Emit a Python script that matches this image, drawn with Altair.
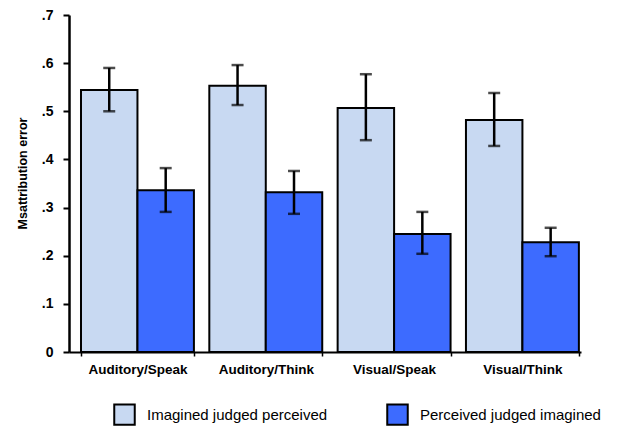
import altair as alt
import pandas as pd

categories = ["Auditory/Speak", "Auditory/Think", "Visual/Speak", "Visual/Think"]
series = ["Imagined judged perceived", "Perceived judged imagined"]
means_imagined = [0.544, 0.553, 0.507, 0.482]
low_imagined = [0.500, 0.513, 0.440, 0.428]
high_imagined = [0.590, 0.596, 0.577, 0.538]
means_perceived = [0.336, 0.332, 0.245, 0.228]
low_perceived = [0.291, 0.287, 0.204, 0.199]
high_perceived = [0.382, 0.376, 0.291, 0.258]
colors = ["#c8d9f2", "#3d6bff"]

rows = []
for i, c in enumerate(categories):
    rows.append(dict(cat=c, s=series[0], m=means_imagined[i], lo=low_imagined[i], hi=high_imagined[i]))
    rows.append(dict(cat=c, s=series[1], m=means_perceived[i], lo=low_perceived[i], hi=high_perceived[i]))
df = pd.DataFrame(rows)

font = "Liberation Sans"

xenc = alt.X("cat:N", sort=categories, title=None,
             scale=alt.Scale(paddingInner=0.12, paddingOuter=0.055, align=0.85),
             axis=alt.Axis(labelAngle=0, labelFont=font, labelFontSize=13.5, labelFontWeight="bold",
                           labelColor="black", domainColor="black", domainWidth=2,
                           tickColor="black", tickWidth=1.5, tickSize=4, tickBand="extent",
                           labelPadding=6))
xoff = alt.XOffset("s:N", sort=series, scale=alt.Scale(paddingInner=0, paddingOuter=0))

base = alt.Chart(df)

bars = base.mark_bar(stroke="black", strokeWidth=2).encode(
    x=xenc,
    xOffset=xoff,
    y=alt.Y("m:Q", title="Msattribution error",
            scale=alt.Scale(domain=[0, 0.7], nice=False),
            axis=alt.Axis(values=[0, 0.1, 0.2, 0.3, 0.4, 0.5, 0.6, 0.7],
                          labelExpr="datum.value == 0 ? '0' : replace(format(datum.value, '.1f'), '0.', '.')",
                          labelFont=font, labelFontSize=14, labelFontWeight="bold", labelColor="black",
                          titleFont=font, titleFontSize=12.5, titleFontWeight="bold", titleColor="black",
                          titleX=-40, titleY=158,
                          grid=False, domainColor="black", domainWidth=2.5,
                          tickColor="black", tickWidth=2, tickSize=6, labelPadding=10)),
    color=alt.Color("s:N", sort=series, title=None,
                    scale=alt.Scale(domain=series, range=colors),
                    legend=alt.Legend(orient="none", legendX=44, legendY=388,
                                      direction="horizontal", symbolType="square",
                                      symbolSize=420, symbolStrokeColor="black", symbolStrokeWidth=2,
                                      labelFont=font, labelFontSize=15, labelColor="black",
                                      labelLimit=400, columnPadding=55, labelOffset=11)),
)

rules = base.mark_rule(color="black", strokeWidth=2.5).encode(
    x=alt.X("cat:N", sort=categories),
    xOffset=xoff,
    y="lo:Q",
    y2="hi:Q",
)

caps_lo = base.mark_tick(color="black", thickness=2.5, size=12).encode(
    x=alt.X("cat:N", sort=categories), xOffset=xoff, y="lo:Q")
caps_hi = base.mark_tick(color="black", thickness=2.5, size=12).encode(
    x=alt.X("cat:N", sort=categories), xOffset=xoff, y="hi:Q")

chart = alt.layer(bars, rules, caps_lo, caps_hi).properties(
    width=512, height=337,
    padding={"left": 8, "top": 0, "right": 5, "bottom": 0},
).configure_view(stroke=None)

chart.save("out.html", embed_options={"renderer": "svg", "actions": False})
